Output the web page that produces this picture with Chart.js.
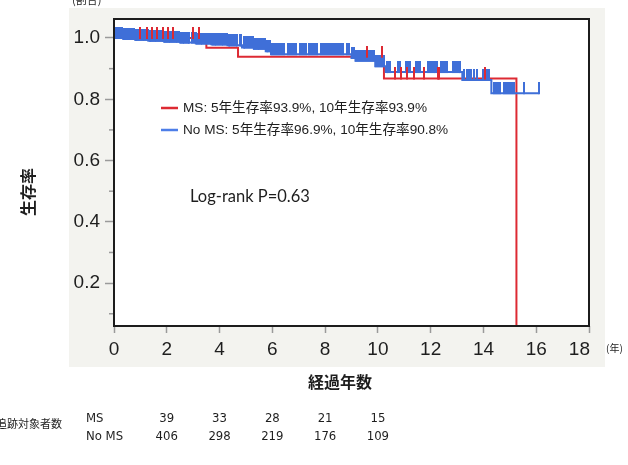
<!DOCTYPE html>
<html lang="ja">
<head>
<meta charset="UTF-8">
<title>生存率</title>
<script src="https://cdn.jsdelivr.net/npm/chart.js"></script>
<style>
  body { margin: 0; background: #ffffff; }
  .wrap { position: relative; width: 628px; height: 465px; }
</style>
</head>
<body>
<div class="wrap"><canvas id="kmChart"></canvas></div>
<script>
// Kaplan-Meier steps: time (years) where survival changes, and the new value
const msTimes = [0, 3.5, 4.7, 10.23, 15.25];
const msSurv = [1.0, 0.968, 0.939, 0.868, 0.0];
// censored observations (years)
const msCensor = [0.99, 1.25, 1.44, 1.63, 1.86, 2.05, 2.24, 3.0, 3.23,
  9.58, 10.15, 10.65, 10.87, 11.1, 11.37, 11.75, 12.28, 12.33, 14.05];

const noMsTimes = [0, 0.35, 0.8, 1.3, 1.9, 2.5, 3.1, 3.7, 4.3, 4.85, 5.3, 5.75, 5.95,
  9.0, 9.15, 9.9, 10.3, 13.2, 14.3];
const noMsSurv = [1.0, 0.997, 0.994, 0.991, 0.988, 0.985, 0.982, 0.979, 0.976, 0.969, 0.965, 0.957, 0.947,
  0.935, 0.926, 0.908, 0.889, 0.863, 0.82];
const noMsEnd = 16.12;
const noMsCensor = [
  0.03, 0.09, 0.16, 0.22, 0.29, 0.36, 0.42, 0.49, 0.55, 0.62, 0.69, 0.75, 0.82, 0.88, 0.95,
  1.02, 1.08, 1.15, 1.21, 1.28, 1.35, 1.41, 1.48, 1.54, 1.61, 1.68, 1.74, 1.81, 1.87, 1.94,
  2.01, 2.07, 2.14, 2.2, 2.27, 2.34, 2.4, 2.47, 2.53, 2.6, 2.67, 2.73, 2.8, 2.86, 2.96,
  3.02, 3.09, 3.15, 3.22, 3.29, 3.35, 3.42, 3.48, 3.55, 3.62, 3.68, 3.75, 3.81, 3.88, 3.95,
  4.01, 4.08, 4.14, 4.21, 4.28, 4.34, 4.41, 4.47, 4.54, 4.61, 4.67, 4.76, 4.83, 4.92, 4.98,
  5.05, 5.12, 5.18, 5.25, 5.31, 5.38, 5.45, 5.51, 5.58, 5.64, 5.71, 5.78, 5.84, 5.9,
  5.97, 6.05, 6.12, 6.2, 6.28, 6.36, 6.43, 6.58, 6.66, 6.74, 6.82, 6.9,
  7.03, 7.11, 7.19, 7.26, 7.38, 7.46, 7.54, 7.61, 7.68, 7.83, 7.91, 7.99,
  8.06, 8.14, 8.21, 8.29, 8.37, 8.45, 8.52, 8.6, 8.67, 8.84, 8.92,
  9.03, 9.1, 9.18, 9.25, 9.33, 9.4, 9.48, 9.55, 9.63, 9.7, 9.78, 9.85, 9.93, 10.0, 10.08, 10.15, 10.22,
  10.34, 10.4, 10.47, 10.76, 10.83, 11.06, 11.13, 11.2, 11.44, 11.51, 11.58,
  11.9, 11.97, 12.04, 12.11, 12.18, 12.25, 12.4, 12.47, 12.54, 12.62,
  12.85, 12.92, 12.99, 13.06, 13.13, 13.28, 13.36, 13.44, 13.52, 13.66, 13.76, 14.0, 14.12, 14.22,
  14.4, 14.48, 14.56, 14.64, 14.76, 14.84, 14.92, 15.02, 15.1, 15.17, 15.55, 16.12
];

const xTicks = [0, 2, 4, 6, 8, 10, 12, 14, 16, 18];
const yTicks = [0.1, 0.2, 0.3, 0.4, 0.5, 0.6, 0.7, 0.8, 0.9, 1.0];

const legendLabels = ['MS: 5年生存率93.9%, 10年生存率93.9%', 'No MS: 5年生存率96.9%, 10年生存率90.8%'];
const riskTitle = '追跡対象者数';
const riskGroups = ['MS', 'No MS'];
const riskTimes = [2, 4, 6, 8, 10];
const riskMs = [39, 33, 28, 21, 15];
const riskNoMs = [406, 298, 219, 176, 109];

const RED = '#dd2a33';
const BLUE = '#3f6fd8';

// survival value at time t from a step function
function survAt(times, surv, t) {
  let v = surv[0];
  for (let i = 0; i < times.length; i++) {
    if (times[i] <= t) v = surv[i];
  }
  return v;
}

// censor mark: a short vertical tick standing up from the curve
function makeTick(color, len) {
  const c = document.createElement('canvas');
  c.width = 2;
  c.height = len * 2;
  const g = c.getContext('2d');
  g.fillStyle = color;
  g.fillRect(0, 0, 2, len + 1);
  return c;
}

function isMajor(v) {
  return Math.round(v * 10) % 2 === 0;
}

const msLine = msTimes.map((t, i) => ({x: t, y: msSurv[i]}));
const noMsLine = noMsTimes.map((t, i) => ({x: t, y: noMsSurv[i]}));
noMsLine.push({x: noMsEnd, y: noMsSurv[noMsSurv.length - 1]});

const msMarks = msCensor.map(t => ({x: t, y: survAt(msTimes, msSurv, t)}));
const noMsMarks = noMsCensor.map(t => ({x: t, y: survAt(noMsTimes, noMsSurv, t)}));

const lastX = xTicks[xTicks.length - 1];

const decorPlugin = {
  id: 'decor',
  beforeDraw(chart) {
    const {ctx, chartArea: a} = chart;
    ctx.save();
    ctx.fillStyle = '#f3f3ef';
    ctx.fillRect(69, 8, 536, 359);
    ctx.fillStyle = '#ffffff';
    ctx.fillRect(a.left, a.top, a.right - a.left, a.bottom - a.top);
    ctx.restore();
  },
  afterDatasetsDraw(chart) {
    const {ctx, chartArea: a, scales} = chart;
    ctx.save();
    // frame
    ctx.strokeStyle = '#1c1c1c';
    ctx.lineWidth = 2;
    ctx.strokeRect(a.left, a.top, a.right - a.left, a.bottom - a.top);
    // minor y ticks
    ctx.strokeStyle = '#9a9a9a';
    ctx.lineWidth = 1.5;
    yTicks.filter(v => !isMajor(v)).forEach(v => {
      const y = scales.y.getPixelForValue(v);
      ctx.beginPath();
      ctx.moveTo(a.left - 5, y);
      ctx.lineTo(a.left - 1, y);
      ctx.stroke();
    });
    ctx.restore();
  },
  afterDraw(chart) {
    const {ctx, scales} = chart;
    ctx.save();
    ctx.fillStyle = '#1e1e1e';

    // last x label sits inside the frame edge
    ctx.font = '19px "Liberation Sans", Arial, sans-serif';
    ctx.textAlign = 'right';
    ctx.textBaseline = 'middle';
    ctx.fillText(String(lastX), scales.x.getPixelForValue(lastX) + 1, 350);

    // unit labels
    ctx.font = '11px "Noto Sans CJK JP"';
    ctx.textBaseline = 'bottom';
    ctx.textAlign = 'left';
    ctx.fillText('(割合)', 72, 5);
    ctx.font = '10px "Noto Sans CJK JP"';
    ctx.textBaseline = 'middle';
    ctx.fillText('(年)', 606, 348);

    // axis titles
    ctx.font = 'bold 16px "Noto Sans CJK JP"';
    ctx.textAlign = 'center';
    ctx.fillText('経過年数', 340, 382);
    ctx.save();
    ctx.translate(28, 192);
    ctx.rotate(-Math.PI / 2);
    ctx.fillText('生存率', 0, 0);
    ctx.restore();

    // legend
    const colors = [RED, '#4d7ee8'];
    ctx.font = '13.6px "Liberation Sans", "Noto Sans CJK JP"';
    ctx.textAlign = 'left';
    legendLabels.forEach((label, i) => {
      const y = 108 + i * 22;
      ctx.strokeStyle = colors[i];
      ctx.lineWidth = 2.5;
      ctx.beginPath();
      ctx.moveTo(161, y);
      ctx.lineTo(178, y);
      ctx.stroke();
      ctx.fillStyle = '#1e1e1e';
      ctx.fillText(label, 183, y);
    });

    // log-rank annotation
    ctx.font = '16.5px Lato, "Liberation Sans"';
    ctx.fillText('Log-rank P=0.63', 190, 197);

    // number at risk table
    ctx.font = '11px "Noto Sans CJK JP"';
    ctx.fillText(riskTitle, -4, 424);
    ctx.font = '13px "Liberation Sans Narrow", "DejaVu Sans Condensed", sans-serif';
    ctx.fillText(riskGroups[0], 86, 419);
    ctx.fillText(riskGroups[1], 86, 437);
    ctx.textAlign = 'center';
    riskTimes.forEach((t, i) => {
      const x = scales.x.getPixelForValue(t);
      ctx.fillText(String(riskMs[i]), x, 419);
      ctx.fillText(String(riskNoMs[i]), x, 437);
    });
    ctx.restore();
  }
};

Chart.defaults.font.family = '"Liberation Sans", Arial, sans-serif';
Chart.defaults.color = '#1e1e1e';

new Chart(document.getElementById('kmChart'), {
  type: 'scatter',
  data: {
    datasets: [
      {
        label: 'MS censored',
        data: msMarks,
        showLine: false,
        pointStyle: makeTick(RED, 11),
        pointRadius: 3,
        order: 0,
        clip: false
      },
      {
        label: 'No MS censored',
        data: noMsMarks,
        showLine: false,
        pointStyle: makeTick(BLUE, 11),
        pointRadius: 3,
        order: 1,
        clip: false
      },
      {
        label: 'No MS',
        data: noMsLine,
        showLine: true,
        stepped: 'before',
        borderColor: BLUE,
        borderWidth: 2,
        pointRadius: 0,
        order: 2,
        clip: 0
      },
      {
        label: 'MS',
        data: msLine,
        showLine: true,
        stepped: 'before',
        borderColor: RED,
        borderWidth: 2,
        pointRadius: 0,
        order: 3,
        clip: 0
      }
    ]
  },
  options: {
    responsive: true,
    maintainAspectRatio: false,
    animation: false,
    layout: { padding: { left: 0, top: 19, right: 39, bottom: 0 } },
    plugins: {
      legend: { display: false },
      tooltip: { enabled: false }
    },
    scales: {
      x: {
        type: 'linear',
        min: 0,
        max: 18,
        afterFit(scale) { scale.height = 139; },
        afterBuildTicks(scale) { scale.ticks = xTicks.map(v => ({value: v})); },
        border: { display: false },
        grid: { drawOnChartArea: false, drawTicks: true, tickLength: 7, tickColor: '#9a9a9a', tickWidth: 1.5 },
        ticks: {
          autoSkip: false,
          maxRotation: 0,
          padding: 5,
          font: { size: 19 },
          color: '#1e1e1e',
          // the last label is drawn by the decor plugin, right-aligned
          callback: v => v === lastX ? '' : String(v)
        }
      },
      y: {
        type: 'linear',
        min: 0.06,
        max: 1.062,
        afterFit(scale) { scale.width = 114; },
        afterBuildTicks(scale) { scale.ticks = yTicks.map(v => ({value: v})); },
        border: { display: false },
        grid: {
          drawOnChartArea: false,
          drawTicks: true,
          tickLength: 9,
          tickWidth: 1.5,
          tickColor: ctx => (ctx.tick && isMajor(ctx.tick.value)) ? '#9a9a9a' : 'rgba(0,0,0,0)'
        },
        ticks: {
          autoSkip: false,
          padding: 5,
          font: { size: 19 },
          color: '#1e1e1e',
          callback: v => isMajor(v) ? v.toFixed(1) : ''
        }
      }
    }
  },
  plugins: [decorPlugin]
});
</script>
</body>
</html>
